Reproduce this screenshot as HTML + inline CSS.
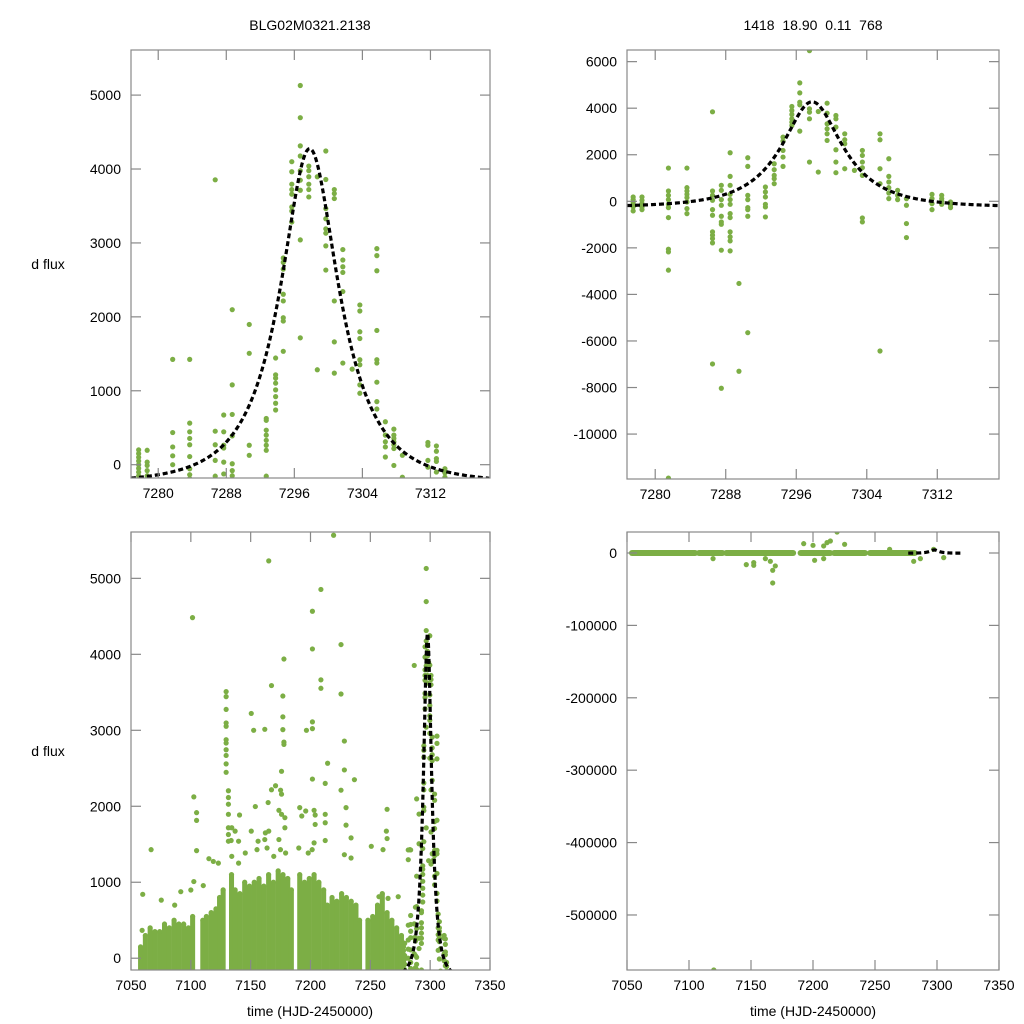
<!DOCTYPE html>
<html><head><meta charset="utf-8">
<style>
html,body{margin:0;padding:0;background:#fff;}
svg{display:block;font-family:"Liberation Sans",sans-serif;}
</style></head>
<body>
<svg id="fig" width="1024" height="1024" viewBox="0 0 1024 1024" xmlns="http://www.w3.org/2000/svg">
<rect x="0" y="0" width="1024" height="1024" fill="#fff"/>
<text x="310" y="30" font-size="14" text-anchor="middle">BLG02M0321.2138</text>
<text x="813" y="30" font-size="14" text-anchor="middle" xml:space="preserve">1418  18.90  0.11  768</text>
<text x="48" y="269" font-size="14" text-anchor="middle">d flux</text>
<text x="48" y="756" font-size="14" text-anchor="middle">d flux</text>
<text x="310" y="1016" font-size="14" text-anchor="middle">time (HJD-2450000)</text>
<text x="813" y="1016" font-size="14" text-anchor="middle">time (HJD-2450000)</text>
<g id="layer"></g>
</svg>
<script>
// ---- data ----
const fitParams = [7297.8, 0.5, 7.2, -250, 3826]; // t0, u0, tE, baseline, amplitude
const tlDays = [7277.7,7278.7,7281.7,7283.7,7286.7,7287.7,7288.7,7290.7,7292.7,7293.8,7294.7,7295.7,7296.7,7297.7,7298.7,7299.7,7300.7,7301.7,7302.8,7303.7,7305.7,7306.7,7307.7,7308.7,7311.7,7312.7,7313.7];
const tlFlux = [
 [200,150,100,50,0,-50,-100,-150],
 [195,35,-10,-80,-150],
 [1425,435,240,120,0],
 [1425,562,445,355,270,110,-55,-135,-190],
 [3854,453,270,58,-155],
 [672,445,263,226,35,-125],
 [2097,1080,680,390,13,-80,-150],
 [1897,1507,263,127],
 [626,600,467,400,330,263,195,-155],
 [1443,1216,1171,1103,1012,921,831,740],
 [2796,2737,2646,2306,2215,1988,1943,1534],
 [4099,3963,3795,3722,3659,3486,3432,3282],
 [5130,4694,4313,4176,3977,3849,3713,3041,1716],
 [4040,3977,3895,3795,3722,3622],
 [3895,1284],
 [4244,3858,3464,3327,3191,3132,2960,2633],
 [3722,3668,3600,2215,1661,1239],
 [2910,2769,2678,2601,2342,1375],
 [1293],
 [2161,2079,1798,1707,1420,1352,1080,966],
 [2923,2828,2624,1816,1420,1375,1116,853,753],
 [581,400,310,240,104],
 [481,400,355,310,270,218,-10],
 [127,-170],
 [300,263,58,-33],
 [254,182,82,45,-100],
 [-55,-110,-170]
];
const trDays = [7277.5,7278.5,7281.5,7283.6,7286.5,7287.5,7288.5,7289.5,7290.5,7292.5,7293.5,7294.5,7295.5,7296.4,7297.5,7298.5,7299.5,7300.5,7301.5,7302.6,7303.5,7305.5,7306.5,7307.5,7308.5,7311.4,7312.5,7313.5];
const trFlux = [
 [186,71,-29,-129,-243,-414],
 [186,43,-100,-243,-357],
 [1429,443,257,71,-129,-271,-700,-2057,-2172,-2958,-11890],
 [1429,586,443,300,157,-29,-314,-529],
 [3844,443,257,43,-357,-600,-1314,-1457,-1600,-1786,-6988],
 [686,471,71,-171,-643,-886,-986,-2100,-8031],
 [2086,1071,686,300,71,-129,-529,-700,-1314,-1529,-1700,-2129],
 [-3529,-7302],
 [1871,1500,257,71,-271,-357,-643,-5644],
 [614,400,186,-129,-243,-671],
 [1614,1357,1114,971,757],
 [2758,2586,2186,1900,1500],
 [4072,3900,3729,3543,3400,3257],
 [5087,4659,4258,4144,3015],
 [6473,3972,3829,3543,1686],
 [3858,1257],
 [4215,3786,3329,3115,2900,2615],
 [3686,3543,3186,2215,1686,1229],
 [2900,2643,2472,1400],
 [1329],
 [2186,1971,1686,1443,1114,-714,-886],
 [2900,2643,1400,757,-6430],
 [1829,1071,829,586,357,114],
 [471,257,71],
 [114,-171,-957,-1557],
 [300,114,-100,-357],
 [257,114,14,-129],
 [-29,-171,-271]
];
const blBinDays = [7058,7062,7066,7070,7074,7078,7082,7086,7090,7094,7098,7101.5,7110,7113,7117,7121,7124,7127,7134,7137,7141,7145,7149,7153,7157,7161,7165,7169,7173,7177,7181,7184,7191,7195,7199,7203,7207,7211,7214,7218,7222,7226,7230,7234,7238,7241,7248,7252,7256,7260,7264,7268,7272,7276];
const blBinTop = [150,300,400,350,350,450,400,500,450,450,400,550,500,550,600,650,800,900,1100,900,850,1000,950,1000,1050,950,1100,1000,1150,1100,1050,900,1100,1000,1050,1100,1000,900,700,800,750,850,800,750,700,500,500,550,700,850,600,500,400,300];
const blOutDays = [7101.4,7165.1,7219.3,7208.7,7201.6,7201.6,7177.8,7225.5,7208.7,7208.7,7167.4,7176.9,7225.5,7129.5,7129.5,7129.5,7129.5,7129.5,7129.5,7129.5,7129.5,7129.5,7129.5,7129.5,7150.5,7152.5,7161.8,7176.9,7176.9,7177.8,7177.8,7201.6,7201.6,7196.6,7228.3,7214.3,7228.3,7201.6,7236.7,7212.3,7225.5,7175.8,7170.8,7167.4,7175,7175.8,7131.4,7131.4,7131.4,7131.4,7131.4,7131.4,7131.4,7102.5,7104.8,7104.8,7104.8,7153.9,7164.6,7140.7,7173.6,7175.8,7178.6,7191,7196,7192.7,7203,7203.9,7212.3,7229.7,7264,7134.2,7137,7150.5,7162.3,7165.1,7178.6,7203.9,7212.3,7229.7,7263.4,7264,7233.9,7133.7,7139.9,7156.2,7161.8,7173.6,7203,7212.3,7134.2,7139.9,7145.5,7155.3,7163.7,7169.3,7174.9,7179.2,7190.2,7198.1,7201.4,7228.3,7233.9,7250.8,7260.6,7281.7,7283.1,7066.8,7075.3,7086.5,7091.6,7100,7110.4,7118.8,7123,7115.1,7102.5,7059.8,7059.3,7252.2,7257.2,7273.3,7264.8];
const blOutFlux = [4483,5230,5567,4854,4567,4071,3938,4128,3664,3553,3589,3451,3478,3509,3443,3275,3097,3053,2876,2832,2744,2669,2558,2447,3222,3000,3013,3177,3009,2845,2814,3111,3022,3000,2858,2566,2478,2358,2350,2301,2212,2460,2270,2217,2212,2159,2204,2115,2027,1894,1717,1628,1540,2124,1916,1814,1416,1996,2049,1885,1947,1894,1850,1982,1938,1872,1947,1885,1894,1982,1960,1717,1673,1673,1650,1673,1717,1761,1783,1752,1673,1575,1584,1549,1540,1540,1562,1562,1518,1549,1341,1252,1385,1429,1451,1341,1429,1385,1451,1385,1429,1363,1319,1473,1429,1297,1429,1429,765,699,876,898,956,1274,1252,1310,1009,841,367,58,810,810,788,1009];
const brSeasonStart = [7054,7108,7130,7190,7217,7246];
const brSeasonEnd   = [7105,7127,7184,7214,7242,7282];
const brOutDays = [7119.4,7146.2,7152.2,7152.2,7161.6,7165.6,7167.5,7169.6,7167.5,7192.5,7200,7208.6,7211.3,7214,7219.4,7225.5,7208.6,7201.3,7261.8,7281.2,7297.3,7305.4,7286.6,7120];
const brOutFlux = [-7800,-16100,-13300,-17000,-7800,-11500,-23900,-17900,-41400,12900,10600,9700,14300,16600,29000,12000,-7800,-10100,5100,-11500,5100,-6400,-7800,-576000];

const tlXTicks = [7280,7288,7296,7304,7312];
const tlYTicks = [0,1000,2000,3000,4000,5000];
const trYTicks = [6000,4000,2000,0,-2000,-4000,-6000,-8000,-10000];
const blXTicks = [7050,7100,7150,7200,7250,7300,7350];
const brYTicks = [0,-100000,-200000,-300000,-400000,-500000];

// ---- drawing ----
const NS = "http://www.w3.org/2000/svg";
const layer = document.getElementById('layer');
const GREEN = "#7cae45";
function mk(tag, attrs, parent){
  const e = document.createElementNS(NS, tag);
  for (const k in attrs) e.setAttribute(k, attrs[k]);
  (parent||layer).appendChild(e);
  return e;
}
function model(t){
  const [t0,u0,tE,F0,A] = fitParams;
  const tau = (t - t0)/tE;
  const u = Math.sqrt(u0*u0 + tau*tau);
  const m = (u*u+2)/(u*Math.sqrt(u*u+4));
  return F0 + A*(m-1);
}
function panel(name, box, xr, yr, xticks, yticks){
  const g = mk('g', {});
  
  
  const sx = v => box.x0 + (v - xr[0])/(xr[1]-xr[0])*(box.x1-box.x0);
  const sy = v => box.y1 - (v - yr[0])/(yr[1]-yr[0])*(box.y1-box.y0);
  const clipId = name + '-clip';
  const cp = mk('clipPath', {id: clipId}, g);
  mk('rect', {x: box.x0, y: box.y0, width: box.x1-box.x0, height: box.y1-box.y0}, cp);
  const plot = mk('g', {'clip-path': 'url(#'+clipId+')'}, g);
  
  
  const ax = mk('g', {stroke: '#888', 'stroke-width': 1.2, fill: 'none'}, g);
  
  
  mk('rect', {x: box.x0, y: box.y0, width: box.x1-box.x0, height: box.y1-box.y0}, ax);
  xticks.forEach(v => {
    const x = sx(v);
    if (x < box.x0-0.5 || x > box.x1+0.5) return;
    mk('line', {x1: x, x2: x, y1: box.y1, y2: box.y1-10}, ax);
    mk('line', {x1: x, x2: x, y1: box.y0, y2: box.y0+10}, ax);
    const t = mk('text', {x: x, y: box.y1+20, 'font-size': 14, 'text-anchor': 'middle', fill: '#000', stroke: 'none'}, g);
    
    
    t.textContent = v;
  });
  yticks.forEach(v => {
    const y = sy(v);
    if (y < box.y0-0.5 || y > box.y1+0.5) return;
    mk('line', {x1: box.x0, x2: box.x0+10, y1: y, y2: y}, ax);
    mk('line', {x1: box.x1, x2: box.x1-10, y1: y, y2: y}, ax);
    const t = mk('text', {x: box.x0-10, y: y+5, 'font-size': 14, 'text-anchor': 'end', fill: '#000', stroke: 'none'}, g);
    
    
    t.textContent = v;
  });
  return {sx, sy, plot, box};
}
function dot(p, t, f, label){
  const c = mk('circle', {cx: p.sx(t), cy: p.sy(f), r: 2.6, fill: GREEN}, p.plot);
  
  
}
function colPoints(p, days, vals, label){
  days.forEach((d,i) => vals[i].forEach(f => dot(p, d, f, label)));
}
function curve(p, label, w){
  let d = '';
  for (let t = 7276.8; t <= 7319.0; t += 0.1){
    d += (d ? 'L' : 'M') + p.sx(t).toFixed(2) + ',' + p.sy(model(t)).toFixed(2);
  }
  const e = mk('path', {d: d, fill: 'none', stroke: '#000', 'stroke-width': w, 'stroke-dasharray': '5,3'}, p.plot);
  
  
}

const TX = [7276.8, 7319.0];
const pTL = panel('panel-top-left', {x0:131,x1:490,y0:50,y1:478}, TX, [-180, 5610], tlXTicks, tlYTicks);
colPoints(pTL, tlDays, tlFlux, 'data-point');
curve(pTL, 'fit-curve', 3.2);
const pTR = panel('panel-top-right', {x0:627,x1:999,y0:50,y1:479}, TX, [-11930, 6500], tlXTicks, trYTicks);
colPoints(pTR, trDays, trFlux, 'data-point');
curve(pTR, 'fit-curve', 3.2);
const pBL = panel('panel-bottom-left', {x0:131,x1:490,y0:532,y1:970}, [7050,7350], [-155, 5610], blXTicks, tlYTicks);
blBinDays.forEach((d,i) => {
  const x0 = pBL.sx(d-2.1), x1 = pBL.sx(d+2.1);
  const y0 = pBL.sy(blBinTop[i]);
  const r = mk('rect', {x: x0, y: y0, width: x1-x0, height: 980-y0, fill: GREEN}, pBL.plot);
  
  
  dot(pBL, d, blBinTop[i], 'data-point');
});
blOutDays.forEach((d,i) => dot(pBL, d, blOutFlux[i], 'data-point'));
colPoints(pBL, tlDays, tlFlux, 'data-point');
curve(pBL, 'fit-curve', 3.2);
const pBR = panel('panel-bottom-right', {x0:627,x1:999,y0:532,y1:970}, [7050,7350], [-576000, 29000], blXTicks, brYTicks);
brSeasonStart.forEach((s,i) => {
  const e = mk('line', {x1: pBR.sx(s), x2: pBR.sx(brSeasonEnd[i]), y1: pBR.sy(0), y2: pBR.sy(0), stroke: GREEN, 'stroke-width': 6, 'stroke-linecap': 'round'}, pBR.plot);
  
  
});
brOutDays.forEach((d,i) => dot(pBR, d, brOutFlux[i], 'data-point'));
curve(pBR, 'fit-curve', 3.2);
</script>
</body></html>
